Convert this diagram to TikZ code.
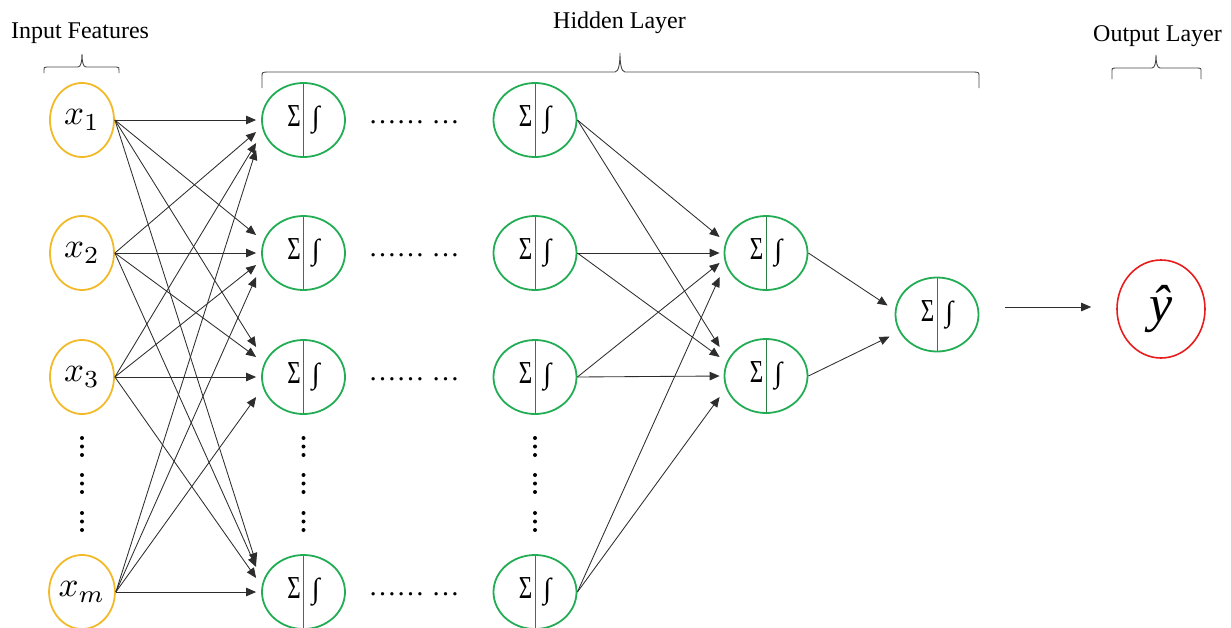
\documentclass[tikz,border=0pt]{standalone}
\usepackage{fontspec}
\setmainfont{Liberation Serif}
\usepackage{graphicx}
\usetikzlibrary{shapes.geometric,arrows.meta,calc}

\definecolor{ingold}{RGB}{242,186,40}
\definecolor{hidgreen}{RGB}{34,172,84}
\definecolor{divgreen}{RGB}{46,125,70}
\definecolor{outred}{RGB}{232,28,28}
\definecolor{wire}{RGB}{45,45,45}
\definecolor{bracegray}{RGB}{70,70,70}

% sum and activation symbols inside a neuron
\newcommand\sumint{\raisebox{-2pt}{\scalebox{0.72}[1]{Σ}\hspace{11pt}\scalebox{0.9}{∫}}}
% enlarged math labels
\newcommand\feat[1]{\scalebox{3.5}{$x_{#1}$}}

\begin{document}
\begin{tikzpicture}[x=1pt,y=-1pt,
  input/.style={ellipse, draw=ingold, line width=1.8pt, minimum width=64pt,
    minimum height=74pt, inner sep=0pt},
  neuron/.style={ellipse, draw=hidgreen, line width=1.8pt, minimum width=83pt,
    minimum height=74pt, inner sep=0pt, font=\fontsize{32}{36}\selectfont,
    path picture={\draw[divgreen, line width=0.9pt]
      (path picture bounding box.north) -- (path picture bounding box.south);}},
  outnode/.style={ellipse, draw=outred, line width=1.6pt, minimum width=88pt,
    minimum height=98pt, inner sep=0pt, font=\fontsize{52}{56}\selectfont\itshape},
  hdots/.style={inner sep=0pt, font=\fontsize{28}{30}\selectfont},
  arr/.style={draw=wire, line width=0.85pt, -{Triangle[length=10pt,width=8.5pt]}},
  brace/.style={draw=bracegray, line width=0.9pt},
  lbl/.style={font=\fontsize{24}{28}\selectfont, inner sep=0pt, anchor=base}]

\useasboundingbox (0,0) rectangle (1231,627);

% layer titles
\node[lbl] (tin)  at (80,38.5) {Input Features};
\node[lbl] (thid) at (619.5,28) {Hidden Layer};
\node[lbl] (tout) at (1157.5,41) {Output Layer};

% braces under the titles
\draw[brace] (44,73) -- (44,70) .. controls (44,67.3) .. (46.7,67) -- (78,67)
  .. controls (81,67) and (82,61) .. (82,54) .. controls (82,61) and (83,67) .. (86,67)
  -- (116.3,67) .. controls (119,67.3) .. (119,70) -- (119,73);
\draw[brace] (262,88) -- (262,77) .. controls (262,72.4) .. (266.6,72) -- (615,72)
  .. controls (619,72) and (620,62) .. (620,53) .. controls (620,62) and (621,72) .. (625,72)
  -- (974.4,72) .. controls (979,72.4) .. (979,77) -- (979,88);
\draw[brace] (1112,79) -- (1112,71.5) .. controls (1112,68.3) .. (1115.2,68) -- (1152,68)
  .. controls (1155,68) and (1156,62) .. (1156,55) .. controls (1156,62) and (1157,68) .. (1160,68)
  -- (1197.8,68) .. controls (1201,68.3) .. (1201,71.5) -- (1201,79);

% input features
\node[input] (x1) at (82,120) {\feat{1}};
\node[input] (x2) at (82,253) {\feat{2}};
\node[input] (x3) at (82,377) {\feat{3}};
\node[input] (x4) at (82,592) {\feat{m}};

% first and last hidden columns with the elided columns between them
\foreach \n/\y in {1/120,2/253,3/377,4/592}{
  \node[neuron] (h\n) at (303.5,\y) {\sumint};
  \node[neuron] (g\n) at (535,\y) {\sumint};
  \node[hdots] (d\n) at (414,{\y+2}) {…… …};
}

% elided rows
\foreach \x in {82,303.5,535}
  \foreach \y in {438,446.5,455,475,483.5,492,513,521.5,530}
    \fill (\x,\y) circle (2pt);

% deeper hidden layers
\node[neuron] (c1) at (766,253) {\sumint};
\node[neuron] (c2) at (766,376) {\sumint};
\node[neuron] (fin) at (937,314.5) {\sumint};

% output
\node[outnode] (out) at (1161,309) {ŷ};

% inputs to first hidden column
\foreach \s/\t/\o in {x1/h1/0, x1/h2/-18, x1/h3/-30, x1/h4/-29,
                      x2/h1/12, x2/h2/0, x2/h3/-20, x2/h4/-25,
                      x3/h1/23, x3/h2/12, x3/h3/0, x3/h4/-14,
                      x4/h1/30, x4/h2/24, x4/h3/20, x4/h4/0}
  \draw[arr] (\s.east) -- ($(\t.west)+(-5,\o)$);

% last elided column to the next layer
\foreach \s/\t/\o in {g1/c1/-16, g2/c1/0, g3/c1/10, g4/c1/24,
                      g1/c2/-29, g2/c2/-19, g3/c2/0, g4/c2/21}
  \draw[arr] (\s.east) -- ($(\t.west)+(-4,\o)$);

\draw[arr] (c1.east) -- ($(fin.west)+(-7,-9)$);
\draw[arr] (c2.east) -- ($(fin.west)+(-5,22)$);

% prediction
\draw[arr] ([xshift=26pt,yshift=7.5pt]fin.east) -- ([xshift=-25pt,yshift=2pt]out.west);

\end{tikzpicture}
\end{document}
